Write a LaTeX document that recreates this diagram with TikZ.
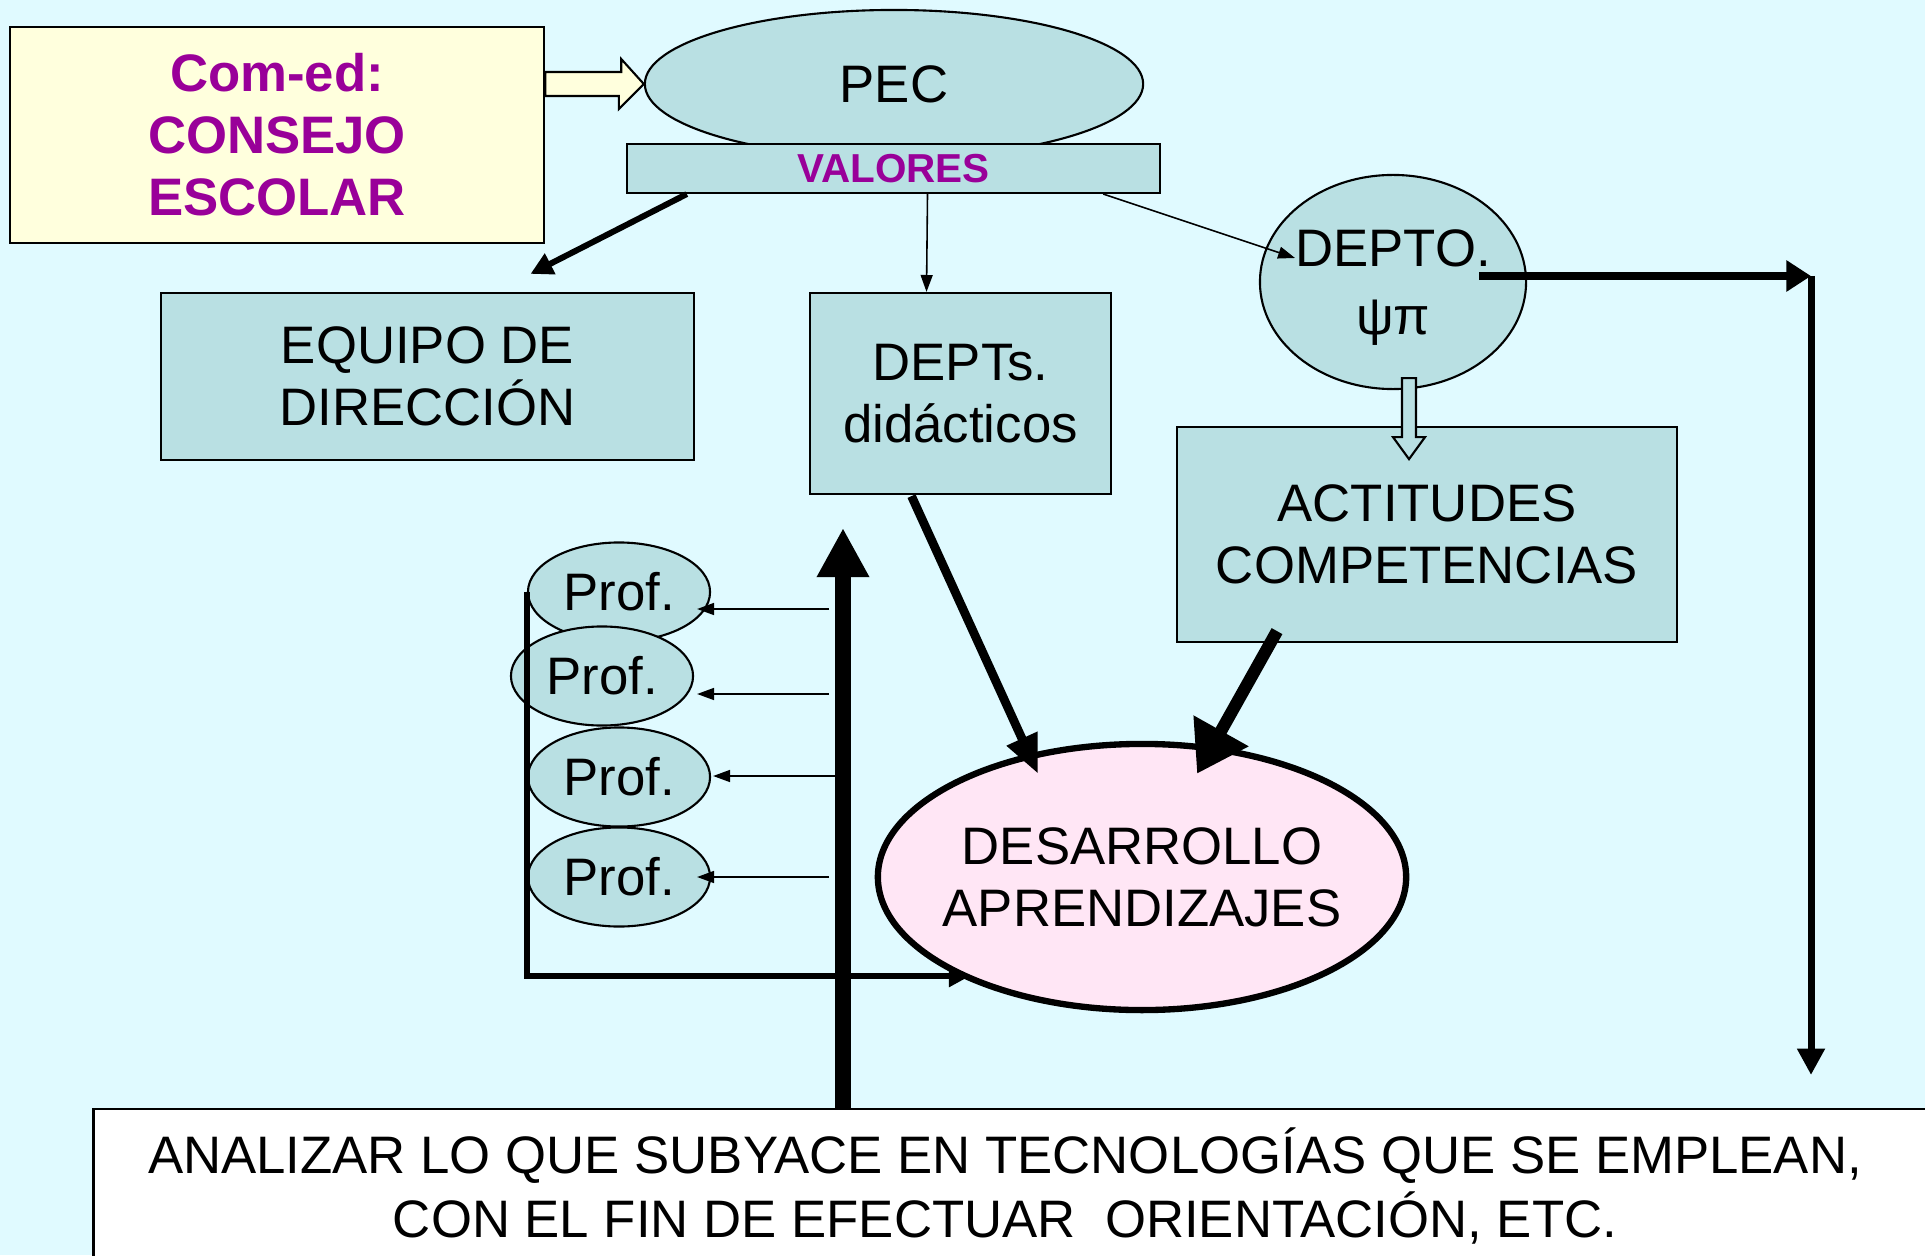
\documentclass[tikz,border=0pt]{standalone}
\usepackage{fontspec}
\setmainfont{Liberation Sans}
\usetikzlibrary{shapes.geometric,arrows.meta,calc}
\definecolor{fondo}{RGB}{224,250,255}
\definecolor{azul}{RGB}{185,224,227}
\definecolor{crema}{RGB}{255,255,221}
\definecolor{morado}{RGB}{153,0,153}
\definecolor{rosa}{RGB}{255,230,245}

\begin{document}
\begin{tikzpicture}[x=0.01cm,y=-0.01cm,
    caja/.style={draw,fill=azul,line width=0.6pt,inner sep=0pt,align=center,
      font=\fontsize{15}{17.6}\selectfont},
    elipse/.style={caja,ellipse},
    fina/.style={-{Triangle[length=4.8pt,width=3.4pt]},line width=0.45pt},
    gruesa/.style={-{Triangle[length=6.3pt,width=6.3pt]},line width=1.7pt},
    hueca/.style={line width=0.6pt}]
    \useasboundingbox (0,0) rectangle (1925,1255);
    \clip (0,0) rectangle (1925,1255);
    \fill[fondo] (0,0) rectangle (1925,1255);

    \node[draw,fill=crema,line width=0.6pt,minimum width=5.34cm,minimum height=2.16cm,
      align=center,text=morado,font=\bfseries\fontsize{15}{17.6}\selectfont]
      (consejo) at (277,135) {Com-ed:\\CONSEJO\\ESCOLAR};
    \node[elipse,minimum width=4.98cm,minimum height=1.48cm] (pec) at (894,84) {PEC};
    \coordinate (entrada) at (consejo.east |- pec.west);
    \draw[hueca,fill=crema] ($(entrada)+(0,-12)$) -- ++(76,0) -- ++(0,-13) -- (pec.west)
      -- ++(-25,25) -- ++(0,-13) -- ($(entrada)+(0,12)$) -- cycle;
    \node[caja,minimum width=5.33cm,minimum height=0.49cm,text=morado,
      font=\bfseries\fontsize{11.5}{13}\selectfont] (valores) at (893.5,168.5) {VALORES};

    \node[caja,minimum width=5.33cm,minimum height=1.67cm] (equipo) at (427.5,376.5) {EQUIPO DE\\DIRECCIÓN};
    \node[caja,minimum width=3.01cm,minimum height=2.01cm] (dept) at (960.5,393.5) {DEPTs.\\didácticos};
    \node[elipse,inner xsep=-10pt,minimum width=2.66cm,minimum height=2.14cm] (depto) at (1393,282)
      {DEPTO.\\[1.5pt]\raisebox{0pt}[\height][0pt]{ψπ}};
    \node[caja,minimum width=5.00cm,minimum height=2.15cm] (actit) at (1427,534.5) {ACTITUDES\\COMPETENCIAS};
    \node[elipse,fill=rosa,line width=1.8pt,inner xsep=-16pt,minimum width=5.28cm,minimum height=2.66cm]
      (desa) at (1142,877) {DESARROLLO\\APRENDIZAJES};

    \foreach \i/\x/\y in {1/619/592,2/602/676,3/619/777,4/619/877}
      \node[elipse,minimum width=1.82cm,minimum height=0.99cm] (prof\i) at (\x,\y) {Prof.};

    \node[draw,fill=white,line width=0.6pt,minimum width=18.41cm,minimum height=1.56cm]
      (abajo) at (1014.5,1187) {};
    \node[align=center,font=\fontsize{15}{18.2}\selectfont] (analizar) at (1005,1186)
      {ANALIZAR LO QUE SUBYACE EN TECNOLOGÍAS QUE SE EMPLEAN,\\CON EL FIN DE EFECTUAR\ \ ORIENTACIÓN, ETC.};

    % desde VALORES
    \draw[gruesa] ($(valores.south west)+(61,0)$) -- ($(equipo.north)+(103,-18)$);
    \draw[fina] ($(valores.south)+(34,0)$) -- ($(dept.north)+(-34,0)$);
    \draw[fina] ($(valores.south east)+(-58,0)$) -- ($(depto.center)+(-98,-24)$);

    % DEPTO. hacia la derecha y abajo
    \coordinate (esquina) at (1811,276);
    \coordinate (fin) at (1811,1075);
    \draw[line width=2pt,-{Triangle[length=7pt,width=8.5pt]}] ($(depto.center)+(86,-6)$) -- (esquina);
    \draw[line width=2pt,-{Triangle[length=7.5pt,width=7.5pt]}] (esquina) -- (fin);

    \coordinate (punta) at ($(depto.south)+(16,69)$);
    \draw[hueca,fill=azul] ($(punta)+(-7,-81)$) -- ++(14,0) -- ++(0,59) -- ++(9,0) -- (punta)
      -- ++(-16,-22) -- ++(9,0) -- cycle;

    % hacia DESARROLLO
    \draw[line width=2.5pt,-{Triangle[length=11pt,width=9pt]}] ($(dept.south)+(-49,1)$) -- ($(desa.north)+(-104,33)$);
    \draw[line width=3.5pt,-{Triangle[length=14pt,width=17pt]}] ($(actit.south)+(-150,-12)$) -- ($(desa.north)+(55,33)$);

    % profesores
    \foreach \i/\x/\y/\dx in {1/829/609/-14,2/829/694/3,3/836/776/2,4/829/877/-14} {
      \coordinate (cola\i) at (\x,\y);
      \draw[fina] (cola\i) -- ($(prof\i.east |- cola\i)+(\dx,0)$);
    }
    \coordinate (llegada) at ($(desa.center)+(-172,99)$);
    \draw[line width=1.7pt,-{Triangle[length=6pt,width=6pt]}] (prof1.west) |- (llegada);

    \coordinate (arriba) at (843,528);
    \draw[line width=4.8pt,-{Triangle[length=14pt,width=14pt]}] (abajo.north -| arriba) -- (arriba);
\end{tikzpicture}
\end{document}
